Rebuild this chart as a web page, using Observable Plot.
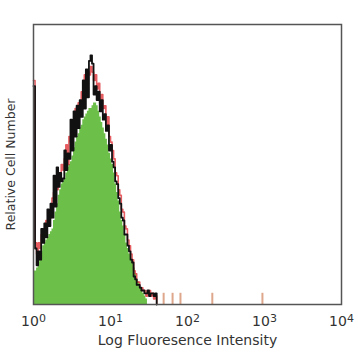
<!DOCTYPE html>
<html>
<head>
<meta charset="utf-8">
<script src="https://cdn.jsdelivr.net/npm/d3@7"></script>
<script src="https://cdn.jsdelivr.net/npm/@observablehq/plot@0.6"></script>
<style>
  html, body { margin: 0; padding: 0; background: #fff; }
</style>
</head>
<body>
<div id="chart"></div>
<script>
// Histogram channels: bins of 0.02 decades starting at 10^0
const binWidthDecades = 0.02;
const blackCounts = [78,20,14,19,16,27,22,29,24,34,28,36,31,46,35,49,42,47,44,45,55,48,54,52,66,55,69,60,71,63,73,67,80,70,84,74,87,89,86,75,78,73,76,69,73,66,68,62,64,55,57,51,49,44,43,38,36,31,30,25,25,21,19,16,15,10,9,7,7,6,5,5,4,4,5,3,4,4,3,4];
const redCounts   = [80,22,18,22,20,25,27,24,30,29,33,31,38,40,44,41,47,45,50,48,52,57,50,60,58,64,62,70,66,72,70,76,74,82,80,83,82,85,83,80,82,77,79,72,75,70,71,64,67,60,58,55,52,47,46,41,39,34,33,28,27,23,21,18,16,12,11,8,8,6,6,5,5,3,4,5,3,4,2,3];
const greenCounts = [12,12,13,15,17,19,21,22,23,24,25,26,27,30,33,36,39,41,43,44,45,47,49,50,51,53,56,58,60,61,63,64,66,67,68,69,70,70,71,72,72,71,69,67,65,63,61,59,57,54,52,50,47,43,40,37,33,30,28,25,22,20,18,16,15,13,11,9,8,6,5,4,3,2,0,0,0,0,0,0];
// Sparse high-intensity events
const rareIntensity = [49, 64, 81, 210, 940];
const rareHeight    = [4, 4, 4, 4, 4];
const xTicks = [1, 10, 100, 1000, 10000];

function toSteps(counts) {
  const pts = counts.map((c, i) => ({x: Math.pow(10, i * binWidthDecades), y: c}));
  pts.push({x: Math.pow(10, counts.length * binWidthDecades), y: 0});
  return pts;
}
const rare = rareIntensity.map((x, i) => ({x, h: rareHeight[i]}));

const chart = Plot.plot({
  width: 358,
  height: 358,
  marginLeft: 33,
  marginRight: 17,
  marginTop: 24,
  marginBottom: 54,
  style: {fontFamily: "DejaVu Sans", fontSize: "13px", color: "#333", background: "#fff"},
  x: {type: "log", domain: [1, 10000]},
  y: {domain: [0, 100], axis: null},
  marks: [
    Plot.areaY(toSteps(greenCounts), {x: "x", y: "y", curve: "step-after", fill: "#6cc04a"}),
    Plot.ruleX(rare, {x: "x", y1: 0, y2: "h", stroke: "#d0805a", strokeWidth: 2, strokeOpacity: 0.7}),
    Plot.lineY(toSteps(redCounts), {x: "x", y: "y", curve: "step-after", stroke: "#e0343a", strokeOpacity: 0.8, strokeWidth: 1.6}),
    Plot.lineY(toSteps(blackCounts), {x: "x", y: "y", curve: "step-after", stroke: "#111", strokeWidth: 1.8}),
    Plot.frame({stroke: "#555", strokeWidth: 1.5}),
    Plot.axisX({ticks: xTicks, tickFormat: d => String(Math.round(Math.log10(d))), tickSize: 0, tickPadding: 12, fontSize: 14, fill: "#333", label: null}),
    Plot.text(["Log Fluoresence Intensity"], {frameAnchor: "bottom", dy: 40, fontSize: 14, fill: "#333"}),
    Plot.text(["Relative Cell Number"], {frameAnchor: "left", dx: -23, rotate: -90, textAnchor: "middle", fontSize: 12.5, fill: "#333"})
  ]
});
// Render tick labels as 10 with a raised exponent
d3.select(chart).selectAll('g[aria-label="x-axis tick label"] text').each(function() {
  const t = d3.select(this);
  const e = t.text();
  t.text("10");
  t.append("tspan").attr("dy", "-0.45em").attr("font-size", "11px").text(e);
});
document.getElementById("chart").appendChild(chart);
</script>
</body>
</html>
